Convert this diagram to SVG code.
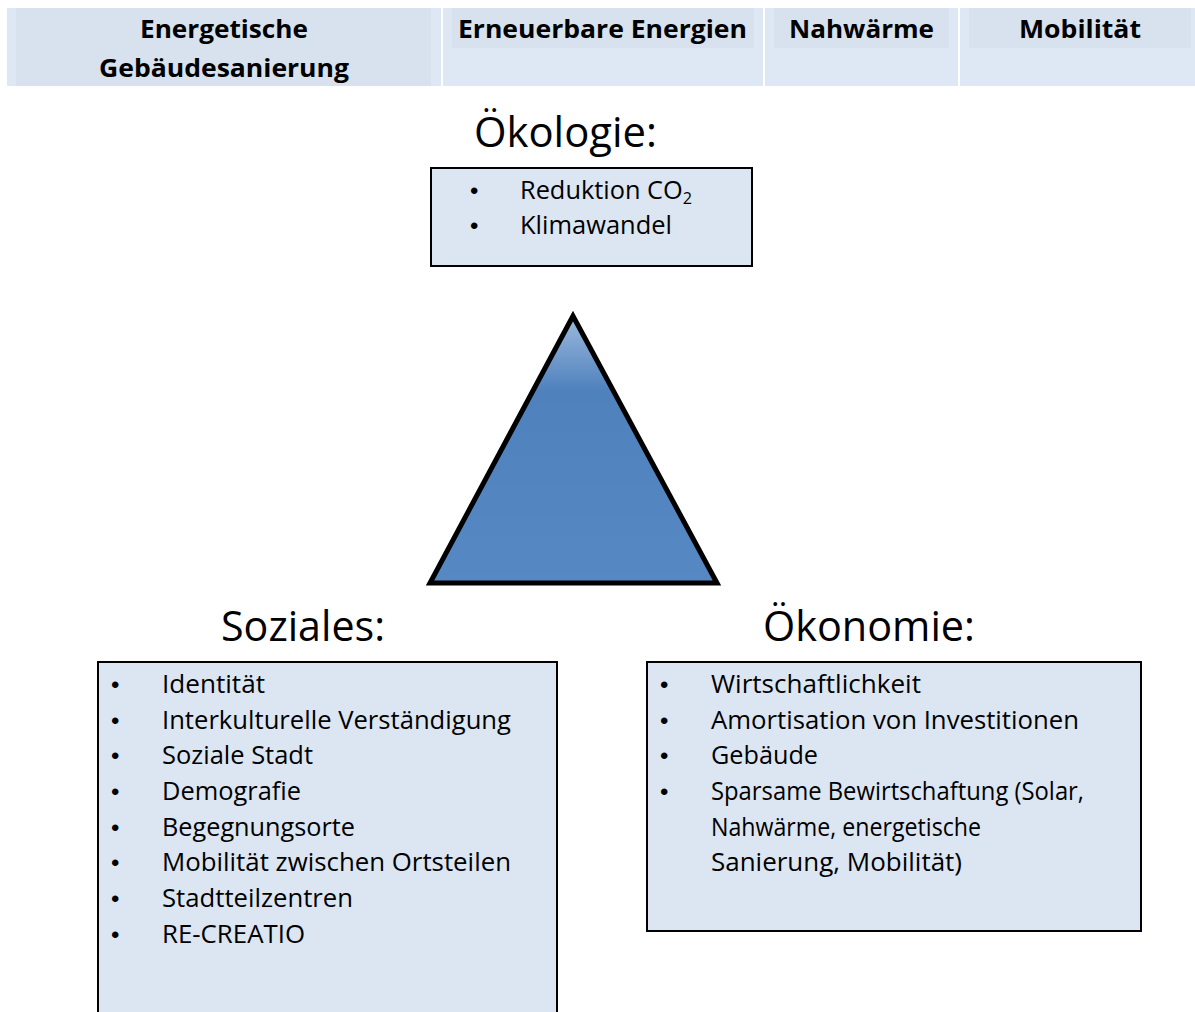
<svg xmlns="http://www.w3.org/2000/svg" width="1195" height="1012" viewBox="0 0 1195 1012">
<style>
.cell{fill:#DDE8F4}
.band{fill:#D8E2EE}
.hd{font-family:"Open Sans","Liberation Sans",sans-serif;font-weight:bold;font-size:25.5px;fill:#000}
.ttl{font-family:"Open Sans","Liberation Sans",sans-serif;font-size:42px;fill:#000}
.box{fill:#DCE6F2;stroke:#000;stroke-width:2}
.it{font-family:"Open Sans","Liberation Sans",sans-serif;font-size:25px;fill:#000}
.bul{font-family:"Liberation Sans",sans-serif;font-size:24px;fill:#000}
</style>
<defs>
<linearGradient id="tg" x1="0" y1="0" x2="0" y2="1">
<stop offset="0" stop-color="#9DB9DD"/>
<stop offset="0.28" stop-color="#4F81BD"/>
<stop offset="1" stop-color="#5689C4"/>
</linearGradient>
</defs>
<rect width="1195" height="1012" fill="#fff"/>

<g id="header">
<g id="h1">
<rect class="cell" x="7" y="8" width="434" height="78"/>
<rect class="band" x="16" y="8" width="415" height="78"/>
<text class="hd" x="224" y="38" text-anchor="middle" textLength="168" lengthAdjust="spacingAndGlyphs">Energetische</text>
<text class="hd" x="224" y="77" text-anchor="middle" textLength="250" lengthAdjust="spacingAndGlyphs">Gebäudesanierung</text>
</g>
<g id="h2">
<rect class="cell" x="443" y="8" width="320" height="78"/>
<rect class="band" x="452" y="8" width="302" height="40"/>
<text class="hd" x="602.5" y="38" text-anchor="middle" textLength="289" lengthAdjust="spacingAndGlyphs">Erneuerbare Energien</text>
</g>
<g id="h3">
<rect class="cell" x="765" y="8" width="193" height="78"/>
<rect class="band" x="774" y="8" width="175" height="40"/>
<text class="hd" x="861.5" y="38" text-anchor="middle" textLength="145" lengthAdjust="spacingAndGlyphs">Nahwärme</text>
</g>
<g id="h4">
<rect class="cell" x="960" y="8" width="235" height="78"/>
<rect class="band" x="969" y="8" width="222" height="40"/>
<text class="hd" x="1080" y="38" text-anchor="middle" textLength="122" lengthAdjust="spacingAndGlyphs">Mobilität</text>
</g>
</g>

<g id="oekologie">
<text class="ttl" x="565.5" y="147" text-anchor="middle" textLength="183" lengthAdjust="spacingAndGlyphs">Ökologie:</text>
<rect class="box" x="431" y="168" width="321" height="98"/>
<text class="bul" x="470" y="199">•</text>
<text class="it" x="520" y="199" textLength="172" lengthAdjust="spacingAndGlyphs">Reduktion CO<tspan font-size="16" dy="5">2</tspan></text>
<text class="bul" x="470" y="234">•</text>
<text class="it" x="520" y="234" textLength="152" lengthAdjust="spacingAndGlyphs">Klimawandel</text>
</g>

<g id="dreieck">
<polygon points="573,316 430,583 717,583" fill="url(#tg)" stroke="#000" stroke-width="5" stroke-linejoin="miter"/>
</g>

<g id="soziales">
<text class="ttl" x="303" y="641" text-anchor="middle" textLength="164" lengthAdjust="spacingAndGlyphs">Soziales:</text>
<rect class="box" x="98" y="662" width="459" height="360"/>
<g class="bul">
<text x="111" y="693">•</text>
<text x="111" y="729">•</text>
<text x="111" y="764">•</text>
<text x="111" y="800">•</text>
<text x="111" y="836">•</text>
<text x="111" y="871">•</text>
<text x="111" y="907">•</text>
<text x="111" y="943">•</text>
</g>
<text class="it" x="162" y="693" textLength="103" lengthAdjust="spacingAndGlyphs">Identität</text>
<text class="it" x="162" y="729" textLength="349" lengthAdjust="spacingAndGlyphs">Interkulturelle Verständigung</text>
<text class="it" x="162" y="764" textLength="151" lengthAdjust="spacingAndGlyphs">Soziale Stadt</text>
<text class="it" x="162" y="800" textLength="139" lengthAdjust="spacingAndGlyphs">Demografie</text>
<text class="it" x="162" y="836" textLength="193" lengthAdjust="spacingAndGlyphs">Begegnungsorte</text>
<text class="it" x="162" y="871" textLength="349" lengthAdjust="spacingAndGlyphs">Mobilität zwischen Ortsteilen</text>
<text class="it" x="162" y="907" textLength="191" lengthAdjust="spacingAndGlyphs">Stadtteilzentren</text>
<text class="it" x="162" y="943" textLength="143" lengthAdjust="spacingAndGlyphs">RE-CREATIO</text>
</g>

<g id="oekonomie">
<text class="ttl" x="869" y="641" text-anchor="middle" textLength="212" lengthAdjust="spacingAndGlyphs">Ökonomie:</text>
<rect class="box" x="647" y="662" width="494" height="269"/>
<g class="bul">
<text x="660" y="693">•</text>
<text x="660" y="729">•</text>
<text x="660" y="764">•</text>
<text x="660" y="800">•</text>
</g>
<text class="it" x="711" y="693" textLength="210" lengthAdjust="spacingAndGlyphs">Wirtschaftlichkeit</text>
<text class="it" x="711" y="729" textLength="368" lengthAdjust="spacingAndGlyphs">Amortisation von Investitionen</text>
<text class="it" x="711" y="764" textLength="107" lengthAdjust="spacingAndGlyphs">Gebäude</text>
<text class="it" x="711" y="800" textLength="373" lengthAdjust="spacingAndGlyphs">Sparsame Bewirtschaftung (Solar,</text>
<text class="it" x="711" y="836" textLength="270" lengthAdjust="spacingAndGlyphs">Nahwärme, energetische</text>
<text class="it" x="711" y="871" textLength="251" lengthAdjust="spacingAndGlyphs">Sanierung, Mobilität)</text>
</g>
</svg>
